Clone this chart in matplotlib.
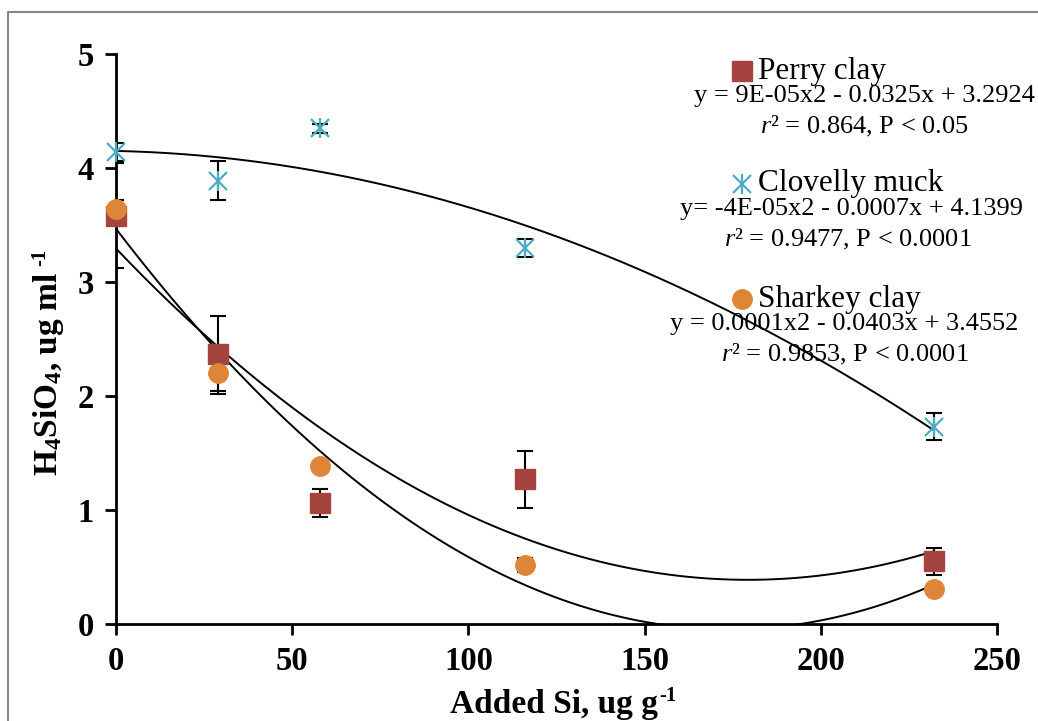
import numpy as np
import matplotlib
matplotlib.use('Agg')
import matplotlib.pyplot as plt
from matplotlib.lines import Line2D

# data
added_si = np.array([0, 29, 58, 116, 232])

perry_y   = np.array([3.58, 2.37, 1.06, 1.27, 0.55])
perry_err = np.array([0.46, 0.33, 0.12, 0.25, 0.12])

clovelly_y   = np.array([4.14, 3.89, 4.35, 3.30, 1.73])
clovelly_err = np.array([0.08, 0.17, 0.04, 0.08, 0.12])

sharkey_y   = np.array([3.64, 2.20, 1.39, 0.52, 0.31])
sharkey_err = np.array([0.08, 0.18, 0.03, 0.06, 0.02])

names = ['Perry clay', 'Clovelly muck', 'Sharkey clay']
equations = ['y = 9E-05x2 - 0.0325x + 3.2924',
             'y= -4E-05x2 - 0.0007x + 4.1399',
             'y = 0.0001x2 - 0.0403x + 3.4552']
r2_text = ['$\\mathit{r}$² = 0.864, P < 0.05',
           '$\\mathit{r}$² = 0.9477, P < 0.0001',
           '$\\mathit{r}$² = 0.9853, P < 0.0001']

col_perry = '#A5443F'
col_clov  = '#4BACC6'
col_shark = '#DE8538'

plt.rcParams['font.family'] = ['Liberation Serif', 'DejaVu Serif']
plt.rcParams['mathtext.fontset'] = 'custom'
plt.rcParams['mathtext.it'] = 'Liberation Serif:italic'
plt.rcParams['mathtext.rm'] = 'Liberation Serif'
plt.rcParams['mathtext.bf'] = 'Liberation Serif:bold'
plt.rcParams['mathtext.default'] = 'bf'

W, H = 1038, 721
fig = plt.figure(figsize=(W/100, H/100), dpi=100)
ax = fig.add_axes([116/W, 1-624/H, (997-116)/W, (624-54)/H])

# quadratic trendlines (Excel style)
xs = np.linspace(0, 232, 300)
for yy in [perry_y, clovelly_y, sharkey_y]:
    c = np.polyfit(added_si, yy, 2)
    ax.plot(xs, np.polyval(c, xs), color='black', lw=1.4, zorder=2)

ebkw = dict(fmt='none', ecolor='black', elinewidth=1.5, capsize=6, capthick=1.5, zorder=3)
ax.errorbar(added_si, perry_y, yerr=perry_err, **ebkw)
ax.errorbar(added_si, clovelly_y, yerr=clovelly_err, **ebkw)
ax.errorbar(added_si, sharkey_y, yerr=sharkey_err, **ebkw)

ax.plot(added_si, perry_y, ls='none', marker='s', ms=14, color=col_perry, zorder=4, clip_on=False)
ax.plot(added_si, clovelly_y, ls='none', marker='x', ms=13, mew=1.6, color=col_clov, zorder=4, clip_on=False)
ax.plot(added_si, clovelly_y, ls='none', marker='|', ms=15, mew=1.6, color=col_clov, zorder=4, clip_on=False)
ax.plot(added_si, sharkey_y, ls='none', marker='o', ms=14, color=col_shark, zorder=5, clip_on=False)

ax.set_xlim(0, 250)
ax.set_ylim(0, 5)
ax.set_xticks([0, 50, 100, 150, 200, 250])
ax.set_yticks([0, 1, 2, 3, 4, 5])
for s in ['top', 'right']:
    ax.spines[s].set_visible(False)
for s in ['left', 'bottom']:
    ax.spines[s].set_linewidth(2)
ax.tick_params(direction='out', length=8, width=2, labelsize=23.5, pad=8)
for lab in ax.get_xticklabels() + ax.get_yticklabels():
    lab.set_fontweight('bold')

# axis titles, with a plain hyphen in the superscript
xl = fig.text(450/W, 1-713/H, 'Added Si, ug g', fontsize=24, fontweight='bold',
              ha='left', va='baseline')
yl = fig.text(57/W, 1-476/H, 'H$_4$SiO$_4$, ug ml', fontsize=24, fontweight='bold',
              rotation=90, rotation_mode='anchor', ha='left', va='baseline')
fig.canvas.draw()
r = fig.canvas.get_renderer()
bx = xl.get_window_extent(r)
fig.text(bx.x1/W + 1/W, 1-701/H, '-1', fontsize=15, fontweight='bold', ha='left', va='baseline')
by = yl.get_window_extent(r)
fig.text(45/W, by.y1/H + 6/H, '-1', fontsize=15, fontweight='bold',
         rotation=90, rotation_mode='anchor', ha='left', va='baseline')

# legend-like annotations
leg_y = [71, 184, 299]
eq_x = [864, 851, 844]
r2_x = [864, 848, 845]
markers = [('s', col_perry), ('star', col_clov), ('o', col_shark)]
for i in range(3):
    y0 = leg_y[i]
    mk, cc = markers[i]
    if mk == 'star':
        fig.add_artist(Line2D([742/W], [1-y0/H], marker='x', ms=13, mew=1.6, color=cc, transform=fig.transFigure))
        fig.add_artist(Line2D([742/W], [1-y0/H], marker='|', ms=15, mew=1.6, color=cc, transform=fig.transFigure))
    else:
        fig.add_artist(Line2D([742/W], [1-y0/H], marker=mk, ms=14, color=cc, transform=fig.transFigure))
    fig.text(758/W, 1-y0/H, names[i], fontsize=22.5, ha='left', va='center')
    fig.text(eq_x[i]/W, 1-(y0+25)/H, equations[i], fontsize=19, ha='center', va='center')
    fig.text(r2_x[i]/W, 1-(y0+55)/H, r2_text[i], fontsize=19, ha='center', va='center')

# outer frame (top and left edges visible)
fig.add_artist(Line2D([8/W, 8/W, 1.0], [0, 1-12/H, 1-12/H], color='#888888', lw=1.5, transform=fig.transFigure))

fig.savefig('out.png', dpi=100)
